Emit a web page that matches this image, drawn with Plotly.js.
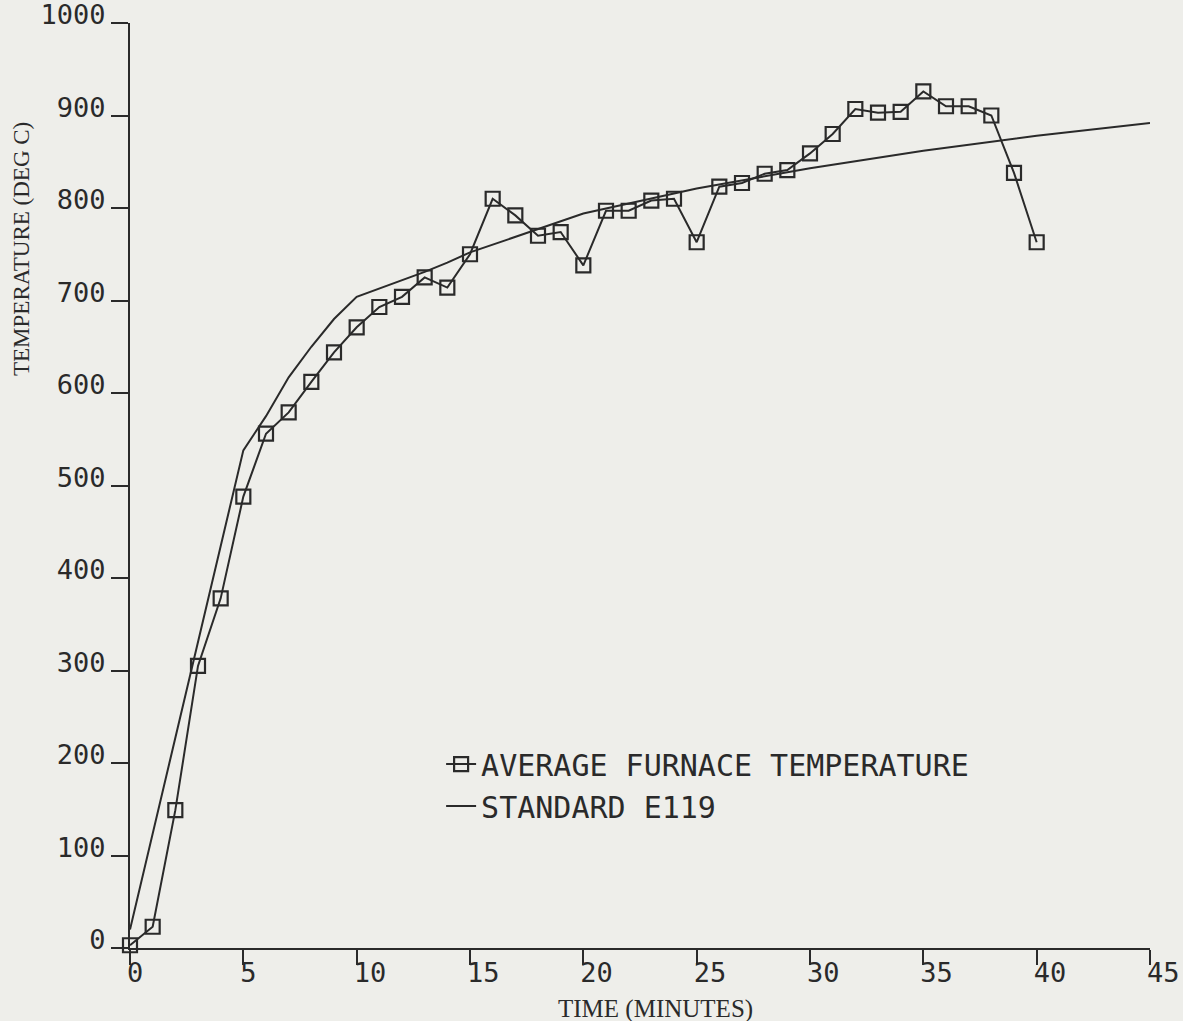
<!DOCTYPE html>
<html>
<head>
<meta charset="utf-8">
<script src="https://cdn.plot.ly/plotly-3.0.1.min.js"></script>
<style>
  html, body { margin: 0; padding: 0; background: #eeeeea; }
  #chart { width: 1183px; height: 1021px; }
</style>
</head>
<body>
<div id="chart"></div>
<script>
// Average furnace temperature, one reading per minute (deg C)
const furnaceTime = [0,1,2,3,4,5,6,7,8,9,10,11,12,13,14,15,16,17,18,19,20,
                     21,22,23,24,25,26,27,28,29,30,31,32,33,34,35,36,37,38,39,40];
const furnaceTemp = [3,23,149,305,378,488,556,579,612,644,671,693,704,725,714,750,810,792,770,774,738,
                     797,797,808,810,763,823,827,837,841,859,880,907,903,904,926,910,910,900,838,763];

// Standard E119 time-temperature curve (deg C)
const e119Time = [0,5,6,7,8,9,10,11,12,13,14,15,20,25,30,35,40,45];
const e119Temp = [20,538,575,617,650,680,704,713,722,731,741,752,794,821,843,862,878,892];

const xTicks = [0,5,10,15,20,25,30,35,40,45];
const yTicks = [0,100,200,300,400,500,600,700,800,900,1000];

const ink = '#2a2a2a';
const bg = '#eeeeea';

const traces = [
  {
    x: furnaceTime, y: furnaceTemp,
    name: 'AVERAGE FURNACE TEMPERATURE',
    mode: 'lines+markers',
    line: {color: ink, width: 2},
    marker: {symbol: 'square-open', size: 14, color: ink, line: {color: ink, width: 2.2}},
    cliponaxis: false
  },
  {
    x: e119Time, y: e119Temp,
    name: 'STANDARD E119',
    mode: 'lines',
    line: {color: ink, width: 2, shape: 'linear'},
    cliponaxis: false
  }
];

const tickFont = {family: 'DejaVu Sans Mono', size: 27, color: ink};

const layout = {
  width: 1183, height: 1021,
  margin: {l: 130, r: 33, t: 23, b: 73},
  paper_bgcolor: bg, plot_bgcolor: bg,
  showlegend: true,
  legend: {
    x: 0.305, y: 0.227, xanchor: 'left', yanchor: 'top',
    bgcolor: 'rgba(0,0,0,0)',
    font: {family: 'DejaVu Sans Mono', size: 30, color: ink},
    itemwidth: 30, tracegroupgap: 0
  },
  xaxis: {
    range: [0, 45], tickvals: xTicks, ticktext: xTicks.map(String),
    showline: true, linecolor: ink, linewidth: 2,
    ticks: 'outside', ticklen: 15, tickwidth: 2, tickcolor: ink,
    ticklabelposition: 'outside right', ticklabelshift: -5,
    ticklabeloverflow: 'allow',
    showgrid: false, zeroline: false,
    tickfont: tickFont, fixedrange: true
  },
  yaxis: {
    range: [0, 1000], tickvals: yTicks, ticktext: yTicks.map(String),
    showline: true, linecolor: ink, linewidth: 2,
    ticks: 'outside', ticklen: 17, tickwidth: 2, tickcolor: ink,
    ticklabelposition: 'outside', ticklabelshift: -8,
    ticklabeloverflow: 'allow',
    showgrid: false, zeroline: false,
    tickfont: tickFont, fixedrange: true
  },
  annotations: [
    {
      text: 'TIME (MINUTES)', xref: 'paper', yref: 'paper',
      x: (655 - 130) / 1020, y: -(1009 - 948) / 925,
      xanchor: 'center', yanchor: 'middle', showarrow: false,
      font: {family: 'Liberation Serif', size: 25, color: ink}
    },
    {
      text: 'TEMPERATURE (DEG C)', xref: 'paper', yref: 'paper',
      x: -(130 - 22) / 1020, y: (948 - 249) / 925,
      xanchor: 'center', yanchor: 'middle', showarrow: false, textangle: -90,
      font: {family: 'Liberation Serif', size: 23, color: ink}
    }
  ]
};

Plotly.newPlot('chart', traces, layout, {displayModeBar: false, staticPlot: true});
</script>
</body>
</html>
